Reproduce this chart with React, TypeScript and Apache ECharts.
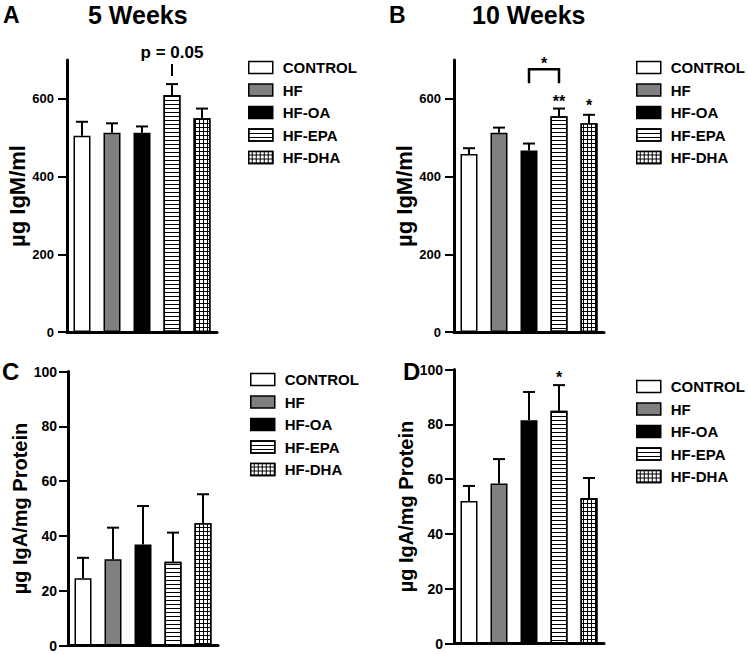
import React, { useEffect, useRef } from 'react';
import * as echarts from 'echarts';

// ---------- data ----------
const groups = ['CONTROL', 'HF', 'HF-OA', 'HF-EPA', 'HF-DHA'];

// A: IgM, 5 weeks (µg/ml) mean and SEM
const igm5Mean = [505, 513, 513, 610, 550];
const igm5Sem = [36, 24, 16, 28, 25];
// B: IgM, 10 weeks
const igm10Mean = [458, 513, 467, 555, 537];
const igm10Sem = [15, 13, 18, 20, 22];
// C: IgA, 5 weeks (µg/mg protein)
const iga5Mean = [24.5, 31.5, 36.9, 30.6, 44.6];
const iga5Sem = [7.5, 11.5, 14.0, 10.6, 10.6];
// D: IgA, 10 weeks
const iga10Mean = [52.0, 58.4, 81.5, 84.9, 53.1];
const iga10Sem = [5.5, 8.9, 10.3, 9.4, 7.3];

const igmTicks = [0, 200, 400, 600];
const igaTicks = [0, 20, 40, 60, 80, 100];

const panelTitles = ['5 Weeks', '10 Weeks'];
const panelLetters = ['A', 'B', 'C', 'D'];
const igmName = 'µg IgM/ml';
const igaName = 'µg IgA/mg Protein';

// significance marks (category index, value in axis units)
const sigLabelsA = [{ cat: 3, half: false, value: 720, text: 'p = 0.05' }];
const sigLinesA = [[[3, 659], [3, 690]]];
const sigLabelsB = [
  { cat: 2, half: true, value: 690, text: '*' },
  { cat: 3, half: false, value: 592, text: '**' },
  { cat: 4, half: false, value: 582, text: '*' },
];
const sigLinesB = [[[2, 640], [2, 676], [3, 676], [3, 640]]];
const sigLabelsD = [{ cat: 3, half: false, value: 97.2, text: '*' }];

// ---------- styles ----------
const FONT = "'Liberation Sans', Arial, Helvetica, sans-serif";

const fills: Record<string, any> = {
  CONTROL: { color: '#ffffff' },
  HF: { color: '#808080' },
  'HF-OA': { color: '#000000' },
  'HF-EPA': {
    color: '#ffffff',
    decal: { symbol: 'rect', symbolSize: 1, color: '#000000', dashArrayX: [[4, 0]], dashArrayY: [1, 3], rotation: 0 },
  },
  'HF-DHA': {
    color: '#000000',
    decal: { symbol: 'rect', symbolSize: 1, color: '#ffffff', dashArrayX: [3, 1], dashArrayY: [3, 1], rotation: 0 },
  },
};

function barSeries(panel: number, means: number[]) {
  return groups.map((g, gi) => ({
    type: 'bar',
    name: g,
    xAxisIndex: panel,
    yAxisIndex: panel,
    data: means.map((v, i) => (i === gi ? v : null)),
    barWidth: 17,
    barGap: '-100%',
    silent: true,
    itemStyle: { ...fills[g], borderColor: '#000', borderWidth: 1.5 },
    z: 2,
  }));
}

function errorSeries(panel: number, means: number[], sems: number[]) {
  return {
    type: 'custom',
    xAxisIndex: panel,
    yAxisIndex: panel,
    silent: true,
    z: 5,
    data: means.map((m, i) => [i, m, m + sems[i]]),
    renderItem: (params: any, api: any) => {
      const base = api.coord([api.value(0), api.value(1)]);
      const top = api.coord([api.value(0), api.value(2)]);
      const st = { stroke: '#000', lineWidth: 2 };
      return {
        type: 'group',
        children: [
          { type: 'line', shape: { x1: base[0], y1: base[1], x2: top[0], y2: top[1] }, style: st },
          { type: 'line', shape: { x1: top[0] - 6, y1: top[1], x2: top[0] + 6, y2: top[1] }, style: st },
        ],
      };
    },
  };
}

function labelSeries(panel: number, labels: { cat: number; half: boolean; value: number; text: string }[], size: number) {
  return {
    type: 'custom',
    xAxisIndex: panel,
    yAxisIndex: panel,
    silent: true,
    z: 6,
    data: labels.map((l) => [l.cat, l.value]),
    renderItem: (params: any, api: any) => {
      const l = labels[params.dataIndex];
      const p = api.coord([api.value(0), api.value(1)]);
      const band = api.size([1, 0])[0];
      const x = p[0] + (l.half ? band / 2 : 0);
      return {
        type: 'text',
        x,
        y: p[1],
        style: {
          text: l.text,
          fill: '#000',
          font: `bold ${size}px ${FONT}`,
          align: 'center',
          verticalAlign: 'middle',
        },
      };
    },
  };
}

function lineSeries(panel: number, lines: number[][][], width: number) {
  return {
    type: 'custom',
    xAxisIndex: panel,
    yAxisIndex: panel,
    silent: true,
    z: 6,
    data: lines.map((ln) => ln[0]),
    renderItem: (params: any, api: any) => {
      const pts = lines[params.dataIndex].map((pt) => api.coord(pt));
      return {
        type: 'polyline',
        shape: { points: pts },
        style: { stroke: '#000', lineWidth: width, fill: null },
      };
    },
  };
}

function legendFor(left: number, top: number) {
  return {
    data: groups,
    orient: 'vertical',
    left,
    top,
    padding: 0,
    itemWidth: 24,
    itemHeight: 12,
    itemGap: 7.5,
    icon: 'rect',
    selectedMode: false,
    itemStyle: { borderWidth: 1.5, borderColor: '#000' },
    textStyle: { fontSize: 15, fontWeight: 'bold', color: '#000', fontFamily: FONT, padding: [0, 0, 0, 5] },
  };
}

function xAxisFor(gridIndex: number) {
  return {
    type: 'category',
    gridIndex,
    data: groups,
    boundaryGap: true,
    axisLine: { show: true, lineStyle: { color: '#000', width: 3 } },
    axisTick: { show: false },
    axisLabel: { show: false },
    splitLine: { show: false },
  };
}

function yAxisFor(
  gridIndex: number,
  max: number,
  interval: number,
  ticks: number[],
  name: string,
  nameSize: number,
  nameGap: number,
  labelSize: number,
  margin: number,
) {
  return {
    type: 'value',
    gridIndex,
    min: 0,
    max,
    interval,
    name,
    nameLocation: 'middle',
    nameRotate: 90,
    nameGap,
    nameTextStyle: { fontSize: nameSize, fontWeight: 'bold', color: '#000', fontFamily: FONT },
    axisLine: { show: true, lineStyle: { color: '#000', width: 3 } },
    axisTick: { show: true, length: 9, lineStyle: { color: '#000', width: 2 }, customValues: ticks },
    axisLabel: {
      show: true,
      margin,
      fontSize: labelSize,
      fontWeight: 'bold',
      color: '#000',
      fontFamily: FONT,
      customValues: ticks,
    },
    splitLine: { show: false },
  };
}

function titleText(text: string, left: number, top: number, size: number) {
  return {
    text,
    left,
    top,
    padding: 0,
    textStyle: { fontSize: size, fontWeight: 'bold', color: '#000', fontFamily: FONT },
  };
}

export default function App() {
  const ref = useRef<HTMLDivElement>(null);

  useEffect(() => {
    document.body.style.margin = '0';
    const chart = echarts.init(ref.current!, null, { renderer: 'svg' });
    const option: any = {
      animation: false,
      backgroundColor: '#ffffff',
      title: [
        titleText(panelLetters[0], 3, 3, 23),
        titleText(panelTitles[0], 88, 2, 25),
        titleText(panelLetters[1], 389, 3, 23),
        titleText(panelTitles[1], 472, 2, 25),
        titleText(panelLetters[2], 2, 359, 24),
        titleText(panelLetters[3], 403, 359, 24),
      ],
      legend: [legendFor(248, 60), legendFor(636, 60), legendFor(250, 372), legendFor(636, 379)],
      grid: [
        { left: 67, top: 60, width: 150, height: 272 },
        { left: 454, top: 60, width: 150, height: 272 },
        { left: 68, top: 371.5, width: 150, height: 274 },
        { left: 454, top: 369.5, width: 150, height: 274 },
      ],
      xAxis: [xAxisFor(0), xAxisFor(1), xAxisFor(2), xAxisFor(3)],
      yAxis: [
        yAxisFor(0, 700, 100, igmTicks, igmName, 22, 36, 13, 13),
        yAxisFor(1, 700, 100, igmTicks, igmName, 22, 36, 13, 13),
        yAxisFor(2, 100, 20, igaTicks, igaName, 20, 37, 14, 11),
        yAxisFor(3, 100, 20, igaTicks, igaName, 20, 37, 14, 11),
      ],
      series: [
        ...barSeries(0, igm5Mean),
        errorSeries(0, igm5Mean, igm5Sem),
        labelSeries(0, sigLabelsA, 17),
        lineSeries(0, sigLinesA, 2),
        ...barSeries(1, igm10Mean),
        errorSeries(1, igm10Mean, igm10Sem),
        labelSeries(1, sigLabelsB, 16),
        lineSeries(1, sigLinesB, 2.5),
        ...barSeries(2, iga5Mean),
        errorSeries(2, iga5Mean, iga5Sem),
        ...barSeries(3, iga10Mean),
        errorSeries(3, iga10Mean, iga10Sem),
        labelSeries(3, sigLabelsD, 16),
      ],
    };
    chart.setOption(option);
    return () => chart.dispose();
  }, []);

  return (
    <div
      ref={ref}
      style={{ position: 'fixed', left: 0, top: 0, width: 748, height: 654, background: '#fff' }}
    />
  );
}
